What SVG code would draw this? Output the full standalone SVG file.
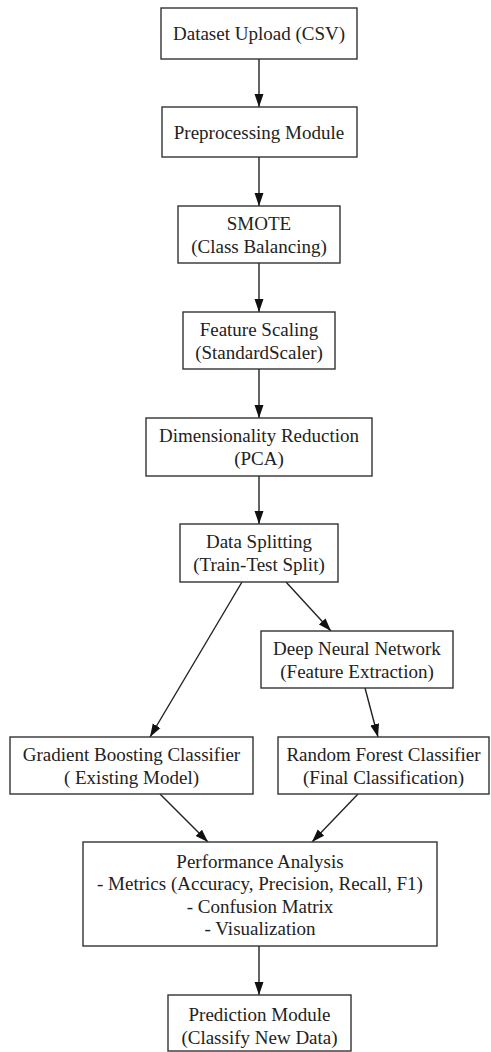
<svg xmlns="http://www.w3.org/2000/svg" width="491" height="1052" viewBox="0 0 491 1052">
<style>
.box{fill:#fff;stroke:#333;stroke-width:1.4}
.t{font-family:"Liberation Serif","Times New Roman",serif;font-size:19px;fill:#222;text-anchor:middle}
.e{fill:none;stroke:#222;stroke-width:1.4}
</style>
<defs>
<marker id="ah" markerUnits="userSpaceOnUse" markerWidth="14" markerHeight="10" refX="13" refY="5" orient="auto">
<path d="M0,0.5 L13,5 L0,9.5 Z" fill="#111"/>
</marker>
</defs>
<rect width="491" height="1052" fill="#fff"/>
<g id="connectors">
<line class="e" x1="259" y1="59" x2="259" y2="107" marker-end="url(#ah)"/>
<line class="e" x1="259" y1="157" x2="259" y2="206" marker-end="url(#ah)"/>
<line class="e" x1="259" y1="263" x2="259" y2="312" marker-end="url(#ah)"/>
<line class="e" x1="259" y1="369" x2="259" y2="418" marker-end="url(#ah)"/>
<line class="e" x1="259" y1="476" x2="259" y2="524" marker-end="url(#ah)"/>
<line class="e" x1="242" y1="582" x2="150" y2="737" marker-end="url(#ah)"/>
<line class="e" x1="286" y1="582" x2="331" y2="631" marker-end="url(#ah)"/>
<line class="e" x1="365" y1="688" x2="378" y2="737" marker-end="url(#ah)"/>
<line class="e" x1="160" y1="794" x2="208" y2="842" marker-end="url(#ah)"/>
<line class="e" x1="358" y1="794" x2="312" y2="842" marker-end="url(#ah)"/>
<line class="e" x1="259" y1="946" x2="259" y2="995" marker-end="url(#ah)"/>
</g>
<g id="n1"><rect class="box" x="161" y="8" width="196" height="51"/><text class="t" x="259" y="40">Dataset Upload (CSV)</text></g>
<g id="n2"><rect class="box" x="162" y="107" width="195" height="50"/><text class="t" x="259" y="138.5">Preprocessing Module</text></g>
<g id="n3"><rect class="box" x="178" y="206" width="162" height="57"/><text class="t" x="259" y="229.5">SMOTE</text><text class="t" x="259" y="252.5">(Class Balancing)</text></g>
<g id="n4"><rect class="box" x="183" y="312" width="152" height="57"/><text class="t" x="259" y="335.5">Feature Scaling</text><text class="t" x="259" y="358.5">(StandardScaler)</text></g>
<g id="n5"><rect class="box" x="146" y="418" width="226" height="58"/><text class="t" x="259" y="442">Dimensionality Reduction</text><text class="t" x="259" y="465">(PCA)</text></g>
<g id="n6"><rect class="box" x="180" y="524" width="158" height="58"/><text class="t" x="259" y="548">Data Splitting</text><text class="t" x="259" y="571">(Train-Test Split)</text></g>
<g id="n7"><rect class="box" x="261" y="631" width="192" height="57"/><text class="t" x="357" y="654.5">Deep Neural Network</text><text class="t" x="357" y="677.5">(Feature Extraction)</text></g>
<g id="n8"><rect class="box" x="10" y="737" width="243" height="57"/><text class="t" x="131.5" y="760.5">Gradient Boosting Classifier</text><text class="t" x="131.5" y="783.5">( Existing Model)</text></g>
<g id="n9"><rect class="box" x="278" y="737" width="211" height="57"/><text class="t" x="383.5" y="760.5">Random Forest Classifier</text><text class="t" x="383.5" y="783.5">(Final Classification)</text></g>
<g id="n10"><rect class="box" x="83" y="842" width="354" height="104"/><text class="t" x="260" y="867.5">Performance Analysis</text><text class="t" x="260" y="890">- Metrics (Accuracy, Precision, Recall, F1)</text><text class="t" x="260" y="912.5">- Confusion Matrix</text><text class="t" x="260" y="935">- Visualization</text></g>
<g id="n11"><rect class="box" x="168" y="995" width="183" height="56"/><text class="t" x="259.5" y="1020.5">Prediction Module</text><text class="t" x="259.5" y="1043.5">(Classify New Data)</text></g>
</svg>
